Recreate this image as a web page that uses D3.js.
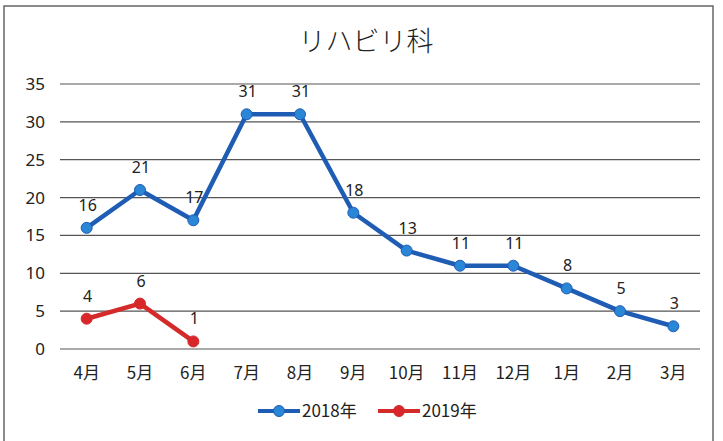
<!DOCTYPE html>
<html>
<head>
<meta charset="utf-8">
<script src="https://cdn.jsdelivr.net/npm/d3@7"></script>
<style>
  body { margin: 0; background: #fff; }
  text { font-family: "Noto Sans CJK JP", "Noto Sans", sans-serif; }
</style>
</head>
<body>
<svg id="chart"></svg>
<script>
const width = 723, height = 441;
const margin = { top: 84, bottom: 92, left: 60, right: 23 };

// data
const months = ["4月", "5月", "6月", "7月", "8月", "9月", "10月", "11月", "12月", "1月", "2月", "3月"];
const values2018 = [16, 21, 17, 31, 31, 18, 13, 11, 11, 8, 5, 3];
const values2019 = [4, 6, 1];
const yTicks = [0, 5, 10, 15, 20, 25, 30, 35];
const seriesNames = ["2018年", "2019年"];

const svg = d3.select("#chart")
    .attr("width", width)
    .attr("height", height)
    .style("background", "#fff");

// frame of the scanned chart
svg.append("rect")
    .attr("x", 4).attr("y", 6)
    .attr("width", 709).attr("height", 460)
    .attr("fill", "none")
    .attr("stroke", "#666")
    .attr("stroke-width", 1.5);

const xScale = d3.scaleBand()
    .domain(months)
    .range([margin.left, width - margin.right]);

const yScale = d3.scaleLinear()
    .domain([0, 35])
    .range([height - margin.bottom, margin.top]);

const colorScale = d3.scaleOrdinal()
    .domain(seriesNames)
    .range(["#1f5cb4", "#d42a2a"]);
const markerFill = { "2018年": "#2a86d6", "2019年": "#d8262a" };

// title
svg.append("text")
    .attr("x", 366)
    .attr("y", 51)
    .attr("text-anchor", "middle")
    .style("font-size", "27px")
    .style("font-weight", 300)
    .attr("fill", "#222")
    .text("リハビリ科");

// gridlines
svg.append("g")
    .selectAll("line")
    .data(yTicks)
    .enter().append("line")
    .attr("x1", margin.left)
    .attr("x2", width - margin.right)
    .attr("y1", d => yScale(d))
    .attr("y2", d => yScale(d))
    .attr("stroke", "#555")
    .attr("stroke-width", 1.2);

// y axis
const yAxis = svg.append("g")
    .attr("transform", `translate(${margin.left - 12}, 0)`)
    .call(d3.axisLeft(yScale).tickValues(yTicks).tickSize(0));
yAxis.select(".domain").remove();
yAxis.selectAll("text")
    .style("font-size", "17px")
    .style("font-family", "'Noto Sans', sans-serif")
    .attr("fill", "#222");

// x axis
const xAxis = svg.append("g")
    .attr("transform", `translate(0, ${height - margin.bottom + 15})`)
    .call(d3.axisBottom(xScale).tickSize(0));
xAxis.select(".domain").remove();
xAxis.selectAll("text")
    .style("font-size", "17px")
    .attr("fill", "#222");

const cx = d => xScale(d) + xScale.bandwidth() / 2;

const series = [
    { name: "2018年", values: values2018 },
    { name: "2019年", values: values2019 }
];

const line = d3.line()
    .x((d, i) => cx(months[i]))
    .y(d => yScale(d));

series.forEach(function(s) {
    const g = svg.append("g");
    g.append("path")
        .datum(s.values)
        .attr("d", line)
        .attr("fill", "none")
        .attr("stroke", colorScale(s.name))
        .attr("stroke-width", 4.5)
        .attr("stroke-linejoin", "round");
    g.selectAll("circle")
        .data(s.values)
        .enter().append("circle")
        .attr("cx", (d, i) => cx(months[i]))
        .attr("cy", d => yScale(d))
        .attr("r", 5.5)
        .attr("fill", markerFill[s.name])
        .attr("stroke", colorScale(s.name))
        .attr("stroke-width", 1);
    g.selectAll("text")
        .data(s.values)
        .enter().append("text")
        .attr("x", (d, i) => cx(months[i]) + 1)
        .attr("y", d => yScale(d) - 17)
        .attr("text-anchor", "middle")
        .style("font-size", "16px")
        .style("font-family", "'Noto Sans', sans-serif")
        .attr("fill", "#222")
        .text(d => d);
});

// legend
const legend = svg.selectAll(".legend")
    .data(seriesNames)
    .enter().append("g")
    .attr("class", "legend")
    .attr("transform", (d, i) => `translate(${258 + i * 120}, 411)`);

legend.append("line")
    .attr("x1", 0).attr("x2", 42)
    .attr("y1", 0).attr("y2", 0)
    .attr("stroke", d => colorScale(d))
    .attr("stroke-width", 4);

legend.append("circle")
    .attr("cx", 21).attr("cy", 0)
    .attr("r", 5.5)
    .attr("fill", d => markerFill[d])
    .attr("stroke", d => colorScale(d));

legend.append("text")
    .attr("x", 44)
    .attr("y", 6)
    .style("font-size", "17px")
    .attr("fill", "#222")
    .text(d => d);
</script>
</body>
</html>
